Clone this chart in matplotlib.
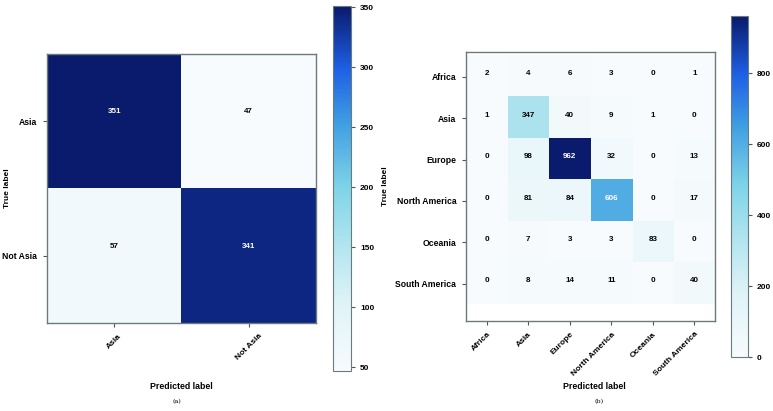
import matplotlib.pyplot as plt
import matplotlib.transforms as mtransforms
import numpy as np
from matplotlib.colors import LinearSegmentedColormap

# binary (Asia vs Not Asia)
bin_labels = ["Asia", "Not Asia"]
bin_counts = [[351, 47],
              [57, 341]]

# continents
cont_labels = ["Africa", "Asia", "Europe", "North America", "Oceania", "South America"]
cont_counts = [[2, 4, 6, 3, 0, 1],
               [1, 347, 40, 9, 1, 0],
               [0, 98, 962, 32, 0, 13],
               [0, 81, 84, 606, 0, 17],
               [0, 7, 3, 3, 83, 0],
               [0, 8, 14, 11, 0, 40]]

cmap = LinearSegmentedColormap.from_list(
    "cm", [(0.0, "#f7fbfd"), (0.18, "#e0f3f8"), (0.33, "#b6e6f0"),
           (0.5, "#7fd4e8"), (0.68, "#3f9ee2"), (0.83, "#1e5fe4"),
           (1.0, "#0a1a6c")])

plt.rcParams["font.family"] = ["Liberation Sans", "DejaVu Sans"]
plt.rcParams["font.weight"] = "bold"
plt.rcParams["font.size"] = 6

fig = plt.figure(figsize=(7.73, 4.11), dpi=100)
W, H = 773.0, 411.0


def box(x0, y0, x1, y1):
    return [x0 / W, 1 - y1 / H, (x1 - x0) / W, (y1 - y0) / H]


def draw(ax, cax, cm, labels, ylim=None, cticks=None, anchored=False):
    cm = np.array(cm)
    im = ax.imshow(cm, cmap=cmap, interpolation="nearest", aspect="auto")
    n = len(labels)
    ax.set_xticks(range(n))
    ax.set_yticks(range(n))
    if anchored:
        ax.set_xticklabels(labels, rotation=45, ha="right", rotation_mode="anchor",
                           fontsize=6)
        shift = mtransforms.ScaledTranslation(8 / 100, -2 / 100, fig.dpi_scale_trans)
        for lab in ax.get_xticklabels():
            lab.set_transform(lab.get_transform() + shift)
    else:
        ax.set_xticklabels(labels, rotation=45, fontsize=6)
    ax.set_yticklabels(labels, fontsize=6.2)
    ax.tick_params(length=3, color="#555555", pad=4)
    thresh = cm.max() / 2.0
    for i in range(n):
        for j in range(n):
            ax.text(j, i - 0.07, str(cm[i, j]), ha="center", va="center",
                    color="white" if cm[i, j] > thresh else "black",
                    fontsize=5.8, fontweight="bold")
    if ylim is not None:
        ax.set_ylim(*ylim)
    for s in ax.spines.values():
        s.set_color("#6b7b7b")
        s.set_linewidth(1)
    ax.set_ylabel("True label", fontweight="bold", fontsize=6)
    cb = fig.colorbar(im, cax=cax)
    if cticks is not None:
        cb.set_ticks(cticks)
    cb.outline.set_edgecolor("#6b7b7b")
    cb.ax.tick_params(length=3, color="#555555", labelsize=6)
    return ax


ax1 = fig.add_axes(box(47, 54, 316, 323))
cax1 = fig.add_axes(box(333, 6, 351, 371))
draw(ax1, cax1, bin_counts, bin_labels, cticks=[50, 100, 150, 200, 250, 300, 350])
ax1.yaxis.set_label_coords(-0.135, 0.5)
fig.text(181 / W, 1 - 386 / H, "Predicted label", ha="center", va="center",
         fontsize=6.3, fontweight="bold")
fig.text(177 / W, 1 - 402 / H, "(a)", ha="center", va="center",
         fontsize=4.5, fontweight="normal", family="DejaVu Serif")

ax2 = fig.add_axes(box(466, 52, 715, 321))
cax2 = fig.add_axes(box(731, 16, 748, 357))
draw(ax2, cax2, cont_counts, cont_labels, ylim=(5.9, -0.6),
     cticks=[0, 200, 400, 600, 800], anchored=True)
ax2.yaxis.set_label_coords(-0.31, 0.5)
fig.text(594 / W, 1 - 386 / H, "Predicted label", ha="center", va="center",
         fontsize=6.3, fontweight="bold")
fig.text(599 / W, 1 - 402 / H, "(b)", ha="center", va="center",
         fontsize=4.5, fontweight="normal", family="DejaVu Serif")

fig.savefig("out.png", dpi=100)
